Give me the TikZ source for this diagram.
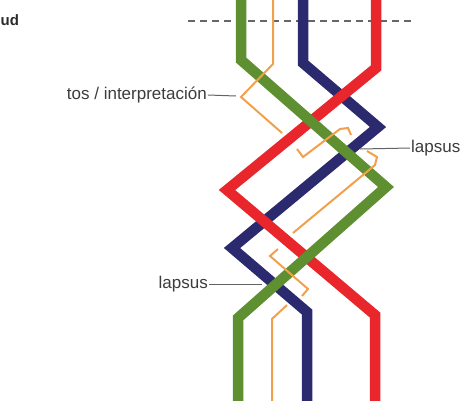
\documentclass[tikz,border=0pt]{standalone}
\usepackage{fontspec}
\setmainfont{Liberation Sans}
\definecolor{cgreen}{HTML}{5E8F30}
\definecolor{cnavy}{HTML}{2C2A6E}
\definecolor{cred}{HTML}{E8262B}
\definecolor{corange}{HTML}{F2A04C}
\definecolor{ctext}{HTML}{3C3C3C}
\begin{document}
\begin{tikzpicture}[x=1pt,y=-1pt,
  strand/.style={line width=10.5pt,line join=miter,miter limit=10},
  thin/.style={line width=2pt,color=corange,line join=miter},
  lbl/.style={font=\fontsize{17}{20}\selectfont,text=ctext,inner sep=1pt},
  leader/.style={draw=ctext!80,line width=1pt}]
\useasboundingbox (0,0) rectangle (466,400);
\clip (0,0) rectangle (466,400);
% dashed reference line
\coordinate (dl) at (188,21);
\coordinate (dr) at (412,21);
\draw[gray!80!black,line width=1.2pt,dash pattern=on 7pt off 5pt] (dl) -- (dr);
% strands
\draw[strand,cnavy] (303,-10) -- (303,63) -- (378,127) -- (232,248) -- (307,312) -- (307,410);
\draw[strand,cred] (376,-10) -- (376,68) -- (227,190) -- (375,315) -- (375,410);
\draw[strand,cgreen] (241,-10) -- (241,60) -- (386,187) -- (238,318) -- (238,410);
% thin orange strand (interrupted)
\draw[thin] (273,-10) -- (273,64) -- (241,97) -- (282,133);
\draw[thin] (297,149) -- (303,157) -- (340,129) -- (348,128) -- (351,135);
\draw[thin] (367,151) -- (377,157) -- (375,165) -- (293,233);
\draw[thin] (278,249) -- (270,256) -- (308,289) -- (302,296);
\draw[thin] (287,305) -- (272,319) -- (272,410);
% labels
\node[font=\fontsize{15}{18}\selectfont\bfseries,text=ctext!70!black,anchor=base west,inner sep=0pt] (title) at (0.5,25) {ud};
\node[lbl,anchor=east] (tos) at (208,95) {tos / interpretación};
\coordinate (tosend) at (236,96);
\draw[leader] (tos.east) -- (tosend);
\node[lbl,anchor=west] (lapa) at (410,148) {lapsus};
\coordinate (lapaend) at (360,149);
\draw[leader] (lapa.west) -- (lapaend);
\node[lbl,anchor=east] (lapb) at (209,284) {lapsus};
\coordinate (lapbend) at (262,284);
\draw[leader] (lapb.east) -- (lapbend);
\end{tikzpicture}
\end{document}
